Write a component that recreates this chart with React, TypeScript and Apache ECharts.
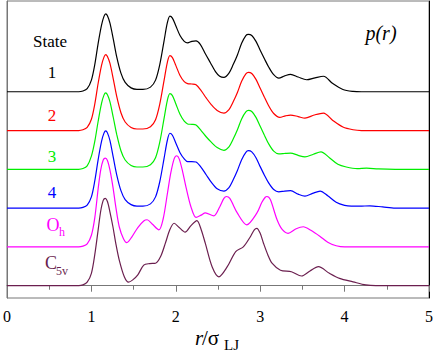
import React, { useEffect, useRef } from "react";
import * as echarts from "echarts";

// r (in units of sigma_LJ) and p(r) heights above each curve's own baseline
const curve1: [number, number][] = [
  [0, 0], [0.85, 0], [0.9, 0.02], [0.95, 0.08], [1.0, 0.3], [1.04, 0.7], [1.08, 1.25], [1.12, 1.72], [1.15, 1.95],
  [1.17, 2.01], [1.19, 1.96], [1.22, 1.77], [1.26, 1.35], [1.3, 0.9], [1.35, 0.48], [1.4, 0.24], [1.47, 0.1],
  [1.54, 0.06], [1.61, 0.06], [1.7, 0.12], [1.76, 0.3], [1.81, 0.7], [1.86, 1.3], [1.9, 1.78], [1.93, 1.95],
  [1.96, 1.9], [2.0, 1.7], [2.05, 1.45], [2.1, 1.3], [2.14, 1.26], [2.19, 1.3], [2.24, 1.31], [2.29, 1.22],
  [2.35, 0.98], [2.41, 0.75], [2.47, 0.52], [2.52, 0.4], [2.57, 0.37], [2.63, 0.48], [2.68, 0.7], [2.73, 0.95],
  [2.78, 1.25], [2.83, 1.45], [2.86, 1.48], [2.9, 1.45], [2.95, 1.3], [3.0, 1.07], [3.05, 0.85], [3.1, 0.64],
  [3.16, 0.44], [3.22, 0.35], [3.29, 0.41], [3.36, 0.45], [3.45, 0.38], [3.55, 0.31], [3.65, 0.36], [3.75, 0.4],
  [3.86, 0.21], [3.98, 0.06], [4.1, 0.01], [4.2, 0], [5, 0],
];
const curve2: [number, number][] = [
  [0, 0], [0.85, 0], [0.9, 0.02], [0.95, 0.08], [1.0, 0.29], [1.04, 0.68], [1.08, 1.22], [1.12, 1.68], [1.15, 1.9],
  [1.17, 1.96], [1.19, 1.91], [1.22, 1.73], [1.26, 1.32], [1.3, 0.88], [1.35, 0.46], [1.4, 0.22], [1.47, 0.08],
  [1.54, 0.04], [1.61, 0.04], [1.7, 0.1], [1.76, 0.28], [1.81, 0.68], [1.86, 1.28], [1.9, 1.76], [1.93, 1.93],
  [1.96, 1.88], [2.0, 1.68], [2.05, 1.42], [2.1, 1.26], [2.14, 1.21], [2.19, 1.2], [2.24, 1.18], [2.3, 1.03],
  [2.36, 0.84], [2.42, 0.67], [2.49, 0.52], [2.57, 0.45], [2.63, 0.54], [2.68, 0.74], [2.73, 0.98], [2.78, 1.27],
  [2.83, 1.46], [2.86, 1.5], [2.9, 1.47], [2.95, 1.32], [3.0, 1.09], [3.05, 0.86], [3.1, 0.64], [3.16, 0.44],
  [3.23, 0.34], [3.3, 0.38], [3.36, 0.4], [3.45, 0.36], [3.53, 0.32], [3.64, 0.4], [3.75, 0.45], [3.86, 0.26],
  [3.98, 0.09], [4.1, 0.02], [4.2, 0], [5, 0],
];
const curve3: [number, number][] = [
  [0, 0], [0.85, 0], [0.9, 0.02], [0.95, 0.09], [1.0, 0.34], [1.04, 0.72], [1.08, 1.24], [1.12, 1.7], [1.15, 1.92],
  [1.17, 1.97], [1.19, 1.92], [1.22, 1.74], [1.26, 1.33], [1.3, 0.9], [1.35, 0.48], [1.4, 0.24], [1.47, 0.1],
  [1.54, 0.06], [1.61, 0.06], [1.7, 0.12], [1.76, 0.3], [1.81, 0.7], [1.86, 1.3], [1.9, 1.78], [1.93, 1.95],
  [1.96, 1.9], [2.0, 1.69], [2.05, 1.42], [2.1, 1.24], [2.14, 1.17], [2.19, 1.16], [2.24, 1.14], [2.3, 1.0],
  [2.36, 0.84], [2.42, 0.7], [2.49, 0.56], [2.57, 0.49], [2.63, 0.58], [2.68, 0.78], [2.73, 1.02], [2.78, 1.3],
  [2.83, 1.48], [2.86, 1.52], [2.9, 1.49], [2.95, 1.34], [3.0, 1.11], [3.05, 0.88], [3.1, 0.66], [3.16, 0.47],
  [3.22, 0.4], [3.29, 0.41], [3.36, 0.42], [3.45, 0.36], [3.53, 0.32], [3.63, 0.39], [3.72, 0.45], [3.82, 0.3],
  [3.92, 0.13], [4.02, 0.06], [4.15, 0.02], [4.26, 0.03], [4.4, 0.01], [4.6, 0], [5, 0],
];
const curve4: [number, number][] = [
  [0, 0], [0.85, 0], [0.9, 0.02], [0.95, 0.08], [1.0, 0.29], [1.04, 0.7], [1.08, 1.25], [1.12, 1.72], [1.15, 1.94],
  [1.17, 1.99], [1.19, 1.94], [1.22, 1.74], [1.26, 1.3], [1.3, 0.86], [1.35, 0.45], [1.4, 0.22], [1.47, 0.09],
  [1.54, 0.05], [1.61, 0.05], [1.7, 0.11], [1.76, 0.29], [1.81, 0.68], [1.86, 1.27], [1.9, 1.75], [1.93, 1.93],
  [1.96, 1.88], [2.0, 1.68], [2.05, 1.43], [2.1, 1.27], [2.14, 1.2], [2.19, 1.2], [2.24, 1.19], [2.3, 1.05],
  [2.36, 0.86], [2.42, 0.67], [2.49, 0.5], [2.57, 0.44], [2.63, 0.53], [2.68, 0.73], [2.73, 0.97], [2.78, 1.25],
  [2.83, 1.44], [2.86, 1.48], [2.9, 1.45], [2.95, 1.3], [3.0, 1.07], [3.05, 0.85], [3.1, 0.65], [3.16, 0.48],
  [3.22, 0.42], [3.29, 0.44], [3.36, 0.45], [3.45, 0.36], [3.53, 0.31], [3.62, 0.38], [3.71, 0.44], [3.8, 0.32],
  [3.9, 0.15], [4.0, 0.07], [4.08, 0.05], [4.18, 0.05], [4.3, 0.06], [4.45, 0.03], [4.6, 0], [5, 0],
];
const curveOh: [number, number][] = [
  [0, 0], [0.85, 0], [0.9, 0.02], [0.95, 0.08], [1.0, 0.3], [1.04, 0.75], [1.08, 1.5], [1.11, 1.98], [1.14, 2.24],
  [1.165, 2.29], [1.19, 2.23], [1.22, 1.98], [1.255, 1.55], [1.29, 1.02], [1.33, 0.52], [1.38, 0.21], [1.42, 0.11],
  [1.48, 0.26], [1.55, 0.5], [1.62, 0.67], [1.66, 0.7], [1.72, 0.59], [1.8, 0.44], [1.85, 0.72], [1.9, 1.37],
  [1.94, 1.9], [1.98, 2.27], [2.01, 2.35], [2.04, 2.27], [2.08, 1.95], [2.12, 1.55], [2.18, 1.03], [2.24, 0.76],
  [2.3, 0.82], [2.35, 0.88], [2.45, 0.8], [2.52, 1.03], [2.57, 1.25], [2.6, 1.3], [2.64, 1.25], [2.73, 0.87],
  [2.84, 0.57], [2.96, 0.87], [3.02, 1.15], [3.06, 1.28], [3.08, 1.3], [3.12, 1.22], [3.2, 0.7], [3.26, 0.45],
  [3.33, 0.35], [3.42, 0.46], [3.51, 0.52], [3.6, 0.43], [3.71, 0.27], [3.8, 0.12], [3.9, 0.03], [4.0, 0], [5, 0],
];
const curveC5v: [number, number][] = [
  [0, 0], [0.85, 0], [0.9, 0.02], [0.95, 0.09], [1.0, 0.32], [1.04, 0.8], [1.08, 1.44], [1.11, 1.92], [1.14, 2.2],
  [1.165, 2.25], [1.19, 2.17], [1.22, 1.9], [1.255, 1.52], [1.29, 1.08], [1.33, 0.66], [1.39, 0.23], [1.44, 0.09],
  [1.49, 0.15], [1.55, 0.28], [1.62, 0.53], [1.69, 0.57], [1.76, 0.58], [1.82, 0.75], [1.88, 1.12], [1.93, 1.45],
  [1.98, 1.61], [2.04, 1.5], [2.11, 1.38], [2.18, 1.55], [2.25, 1.68], [2.3, 1.45], [2.35, 1.09], [2.43, 0.49],
  [2.51, 0.23], [2.61, 0.49], [2.71, 0.88], [2.8, 1.0], [2.88, 1.25], [2.93, 1.44], [2.96, 1.48], [3.0, 1.35],
  [3.04, 1.09], [3.09, 0.8], [3.14, 0.58], [3.24, 0.4], [3.37, 0.36], [3.49, 0.25], [3.59, 0.38], [3.69, 0.49],
  [3.82, 0.32], [3.94, 0.19], [4.1, 0.1], [4.25, 0.02], [4.37, 0], [5, 0],
];

const curves = [curve1, curve2, curve3, curve4, curveOh, curveC5v];
const seriesNames = ["1", "2", "3", "4", "Oh", "C5v"];
const seriesColors = ["#000000", "#ff0000", "#00ee00", "#0000ff", "#ff00ff", "#6b1f4f"];
const seriesOffsets = [5, 4, 3, 2, 1, 0];
const xTickValues = [0, 1, 2, 3, 4, 5];

const SERIF = "Liberation Serif";

function txt(x: number, y: number, text: string, fill: string, size: number, italic = false, align = "center") {
  return {
    type: "text",
    x,
    y,
    silent: true,
    style: {
      text,
      fill,
      fontSize: size,
      fontFamily: SERIF,
      fontStyle: italic ? "italic" : "normal",
      align,
      verticalAlign: "middle",
    },
  };
}

export default function App() {
  const ref = useRef<HTMLDivElement>(null);
  useEffect(() => {
    if (!ref.current) return;
    const chart = echarts.init(ref.current, undefined, { renderer: "svg" });
    const option: any = {
      animation: false,
      textStyle: { fontFamily: SERIF },
      grid: { left: 5, right: 6, top: 1, bottom: 55, show: true, borderColor: "#777", borderWidth: 1 },
      xAxis: {
        type: "value",
        min: xTickValues[0],
        max: xTickValues[xTickValues.length - 1],
        interval: 1,
        axisLine: { show: true, lineStyle: { color: "#777", width: 1 } },
        axisTick: { show: true, length: 6, inside: false, lineStyle: { color: "#777" } },
        minorTick: { show: true, splitNumber: 2, length: 4, lineStyle: { color: "#777" } },
        splitLine: { show: false },
        axisLabel: { color: "#000", fontSize: 16, fontFamily: SERIF, margin: 10 },
      },
      yAxis: [
        {
          type: "value",
          min: -0.317,
          max: 7.34,
          axisLine: { show: true, onZero: false, lineStyle: { color: "#777" } },
          axisTick: { show: false },
          axisLabel: { show: false },
          splitLine: { show: false },
        },
        {
          type: "value",
          position: "right",
          min: 0,
          max: 1,
          axisLine: { show: true, onZero: false, lineStyle: { color: "#000" } },
          axisTick: { show: false },
          axisLabel: { show: false },
          splitLine: { show: false },
        },
      ],
      series: curves.map((c, i) => ({
        type: "line",
        name: seriesNames[i],
        data: c.map(([r, h]) => [r, h + seriesOffsets[i]]),
        showSymbol: false,
        smooth: 0.3,
        lineStyle: { color: seriesColors[i], width: 1.2 },
        itemStyle: { color: seriesColors[i] },
        z: 10 - i,
      })),
      graphic: [
        txt(50, 41, "State", "#000", 17),
        txt(52, 72, seriesNames[0], seriesColors[0], 17),
        txt(52, 115, seriesNames[1], seriesColors[1], 17),
        txt(52, 156, seriesNames[2], seriesColors[2], 17),
        txt(52, 192, seriesNames[3], seriesColors[3], 17),
        txt(53, 225, "O", seriesColors[4], 18),
        txt(59, 232, "h", seriesColors[4], 12, false, "left"),
        txt(51, 263, "C", seriesColors[5], 18),
        txt(56, 271, "5v", seriesColors[5], 12, false, "left"),
        txt(381, 33, "p(r)", "#000", 20, true),
        txt(195, 338, "r", "#000", 21, true, "left"),
        txt(202, 338, "/σ", "#000", 21, false, "left"),
        txt(224, 345, "LJ", "#000", 15, false, "left"),
      ],
    };
    chart.setOption(option);
    return () => chart.dispose();
  }, []);
  return <div ref={ref} style={{ width: 436, height: 353, position: "absolute", left: 0, top: 0 }} />;
}
